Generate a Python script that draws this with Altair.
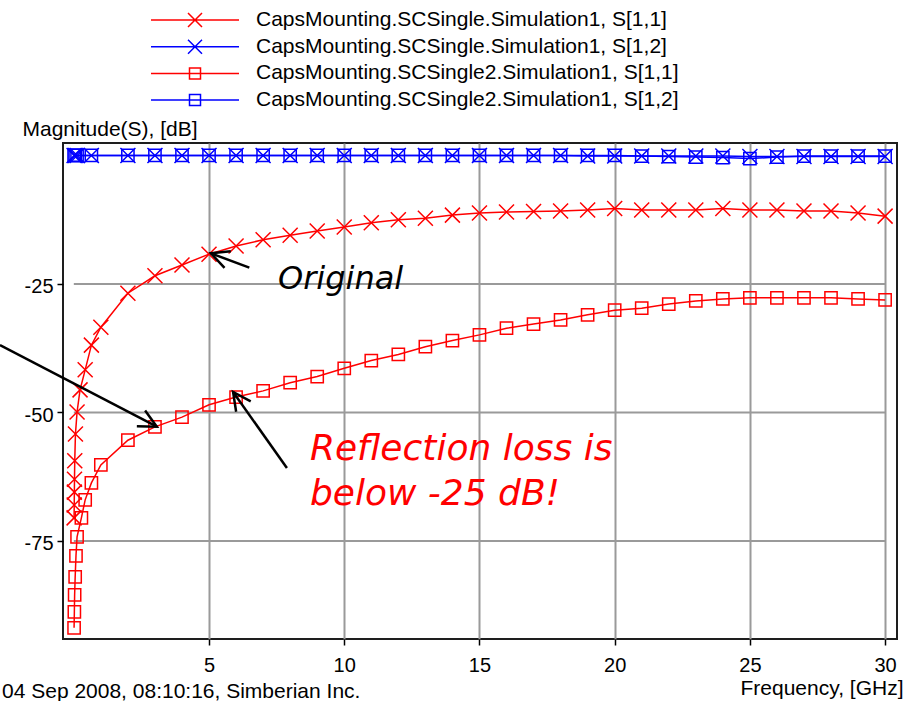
import math

import altair as alt
import pandas as pd

# ---- series names, colours, marker kinds ----
SERIES = [
    "CapsMounting.SCSingle.Simulation1, S[1,1]",
    "CapsMounting.SCSingle.Simulation1, S[1,2]",
    "CapsMounting.SCSingle2.Simulation1, S[1,1]",
    "CapsMounting.SCSingle2.Simulation1, S[1,2]",
]
COLORS = ["#ff0000", "#0000ff", "#ff0000", "#0000ff"]

# ---- frequency sweeps (GHz) and magnitudes (dB) ----
freq_s11_single = [0.01, 0.015, 0.02, 0.025, 0.035, 0.06, 0.12, 0.23, 0.42, 0.65,
                   1, 2, 3, 4, 5, 6, 7, 8, 9, 10,
                   11, 12, 13, 14, 15, 16, 17, 18, 19, 20,
                   21, 22, 23, 24, 25, 26, 27, 28, 29, 30]
s11_single = [-70.5, -68.0, -65.5, -63.0, -59.4, -54.2, -49.9, -45.6, -41.7, -36.9,
              -33.4, -26.8, -23.4, -21.3, -19.2, -17.6, -16.4, -15.5, -14.7, -13.9,
              -13.1, -12.5, -12.2, -11.6, -11.2, -11.0, -10.9, -10.8, -10.6, -10.3,
              -10.6, -10.6, -10.6, -10.3, -10.6, -10.6, -10.8, -10.8, -11.2, -11.8]

freq_s11_single2 = [0.01, 0.02, 0.03, 0.05, 0.08, 0.12, 0.28, 0.42, 0.65, 1,
                    2, 3, 4, 5, 6, 7, 8, 9, 10,
                    11, 12, 13, 14, 15, 16, 17, 18, 19, 20,
                    21, 22, 23, 24, 25, 26, 27, 28, 29, 30]
s11_single2 = [-91.9, -88.8, -85.5, -82.0, -77.9, -74.2, -70.5, -67.0, -63.7, -60.2,
               -55.4, -52.8, -50.9, -48.5, -47.0, -45.8, -44.2, -43.0, -41.4,
               -39.9, -38.7, -37.2, -36.0, -34.9, -33.6, -32.8, -32.0, -31.0, -30.1,
               -29.7, -28.9, -28.3, -27.9, -27.7, -27.7, -27.7, -27.7, -27.9, -28.1]

freq_s12 = [0.01, 0.05, 0.12, 0.65,
            2, 3, 4, 5, 6, 7, 8, 9, 10,
            11, 12, 13, 14, 15, 16, 17, 18, 19, 20,
            21, 22, 23, 24, 25, 26, 27, 28, 29, 30]
s12_single = [0.0, 0.0, 0.0, 0.0,
              0.0, 0.0, 0.0, 0.0, 0.0, 0.0, 0.0, 0.0, 0.0,
              0.0, 0.0, 0.0, 0.0, 0.0, 0.0, 0.0, 0.0, -0.1, -0.1,
              -0.1, -0.1, -0.1, -0.1, -0.2, -0.2, -0.2, -0.2, -0.2, -0.2]
s12_single2 = [0.0, 0.0, 0.0, 0.0,
               0.0, 0.0, 0.0, 0.0, 0.0, 0.0, 0.0, 0.0, 0.0,
               0.0, 0.0, 0.0, 0.0, 0.0, 0.0, 0.0, 0.0, 0.0, 0.0,
               -0.1, -0.2, -0.3, -0.4, -0.6, -0.3, -0.1, -0.1, -0.1, -0.1]

# ---- axis ticks and grid ----
x_ticks = [5, 10, 15, 20, 25, 30]
y_ticks = [-25, -50, -75]
grid_db = [-25, -50, -75]
grid_from, grid_to = 0, 30

# ---- annotations (data units) ----
note_x, note_y, note_text = [7.55], [-25.97], ["Original"]
callout_x = [8.73, 8.73]
callout_y = [-59.24, -68.0]
callout_text = ["Reflection loss is", "below -25 dB!"]
arrow_tail_x = [6.49, -2.73, 7.88]
arrow_tail_y = [-21.83, -36.87, -60.8]
arrow_tip_x = [5.07, 3.07, 5.89]
arrow_tip_y = [-19.03, -52.76, -46.0]

FOOTER = "04 Sep 2008, 08:10:16, Simberian Inc."

X_DOMAIN = [-0.40, 30.44]
Y_DOMAIN = [-94.07, 2.43]
PLOT_W, PLOT_H = 834, 496

UI_FONT = "Liberation Sans"
NOTE_FONT = "DejaVu Sans"

X_PATH = "M-1,-1L1,1M-1,1L1,-1"
LEGEND_X = "M-4.4,0L4.4,0M-0.7,-0.7L0.7,0.7M-0.7,0.7L0.7,-0.7"
LEGEND_SQ = "M-4.4,0L4.4,0M-0.55,-0.55L0.55,-0.55L0.55,0.55L-0.55,0.55Z"
ARROW_HEAD = "M-1,-0.5L0,0L-1,0.5"

# ---- tables ----
rows = []
for name, fs, vs, mk in [
    (SERIES[0], freq_s11_single, s11_single, "x"),
    (SERIES[1], freq_s12, s12_single, "x"),
    (SERIES[2], freq_s11_single2, s11_single2, "square"),
    (SERIES[3], freq_s12, s12_single2, "square"),
]:
    for f, v in zip(fs, vs):
        rows.append({"series": name, "freq": f, "db": v, "marker": mk})
curves = pd.DataFrame(rows)

grid = pd.DataFrame({"db": grid_db, "x0": grid_from, "x1": grid_to})

px_per_x = PLOT_W / (X_DOMAIN[1] - X_DOMAIN[0])
px_per_y = PLOT_H / (Y_DOMAIN[1] - Y_DOMAIN[0])
angles = []
for tx, ty, hx, hy in zip(arrow_tail_x, arrow_tail_y, arrow_tip_x, arrow_tip_y):
    dx = (hx - tx) * px_per_x
    dy = -(hy - ty) * px_per_y
    angles.append(math.degrees(math.atan2(dy, dx)) % 360)
arrows = pd.DataFrame({"x0": arrow_tail_x, "y0": arrow_tail_y,
                       "x1": arrow_tip_x, "y1": arrow_tip_y, "angle": angles})
notes = pd.DataFrame({"x": note_x, "y": note_y, "t": note_text})
callouts = pd.DataFrame({"x": callout_x, "y": callout_y, "t": callout_text})

x_scale = alt.Scale(domain=X_DOMAIN, nice=False, zero=False)
y_scale = alt.Scale(domain=Y_DOMAIN, nice=False, zero=False)
color_scale = alt.Scale(domain=SERIES, range=COLORS)

x_axis = alt.Axis(
    values=x_ticks, grid=True, gridColor="#9a9a9a", gridWidth=2,
    domain=False, ticks=True, tickColor="#000", tickSize=6, tickWidth=1.5,
    labelFont=UI_FONT, labelFontSize=20, labelColor="#000",
    labelBaseline="alphabetic", labelPadding=26, labelFlush=False,
    title="Frequency, [GHz]", titleFont=UI_FONT, titleFontSize=21,
    titleFontWeight="normal", titleColor="#000", titleAlign="right",
    titleBaseline="alphabetic", titleX=840, titleY=55,
)
y_axis = alt.Axis(
    values=y_ticks, grid=False, domain=False, ticks=True, tickColor="#000",
    tickSize=6, tickWidth=1.5, labelFont=UI_FONT, labelFontSize=20,
    labelColor="#000", labelPadding=4, labelOffset=3,
    labelExpr="'' + datum.value",
    title="Magnitude(S), [dB]", titleFont=UI_FONT, titleFontSize=21,
    titleFontWeight="normal", titleColor="#000", titleAngle=0,
    titleAlign="left", titleBaseline="alphabetic", titleX=-41, titleY=-8,
)

legend = alt.Legend(
    orient="none", legendX=121, legendY=-134, title=None, direction="vertical",
    symbolSize=400, symbolStrokeWidth=1.5, labelFont=UI_FONT, labelFontSize=21,
    labelColor="#000", labelLimit=0, labelOffset=50, rowPadding=5.7, padding=0,
)

X = lambda f: alt.X(f, scale=x_scale, axis=x_axis)
Y = lambda f: alt.Y(f, scale=y_scale, axis=y_axis)
C = alt.Color("series:N", scale=color_scale, legend=legend)

gridlines = alt.Chart(grid).mark_rule(color="#9a9a9a", strokeWidth=2).encode(
    x=X("x0:Q"), x2="x1:Q", y=Y("db:Q"),
)

lines = alt.Chart(curves).mark_line(strokeWidth=1.5).encode(
    x=X("freq:Q"), y=Y("db:Q"), color=C, order="freq:Q",
)

x_marks = alt.Chart(curves).transform_filter(alt.datum.marker == "x").mark_point(
    shape=X_PATH, filled=False, size=225, strokeWidth=1.5, opacity=1
).encode(x=X("freq:Q"), y=Y("db:Q"), color=C)

sq_marks = alt.Chart(curves).transform_filter(alt.datum.marker == "square").mark_point(
    shape="square", filled=False, size=150, strokeWidth=1.5, opacity=1
).encode(x=X("freq:Q"), y=Y("db:Q"), color=C)

# legend symbols: a line with the series marker drawn through it
legend_layer = alt.Chart(curves).transform_filter(alt.datum.db > 1000).mark_point(
    filled=False, size=400, strokeWidth=1.5, opacity=1
).encode(
    color=C,
    shape=alt.Shape("series:N",
                    scale=alt.Scale(domain=SERIES,
                                    range=[LEGEND_X, LEGEND_X, LEGEND_SQ, LEGEND_SQ]),
                    legend=legend),
)

arrow_shafts = alt.Chart(arrows).mark_rule(color="#000", strokeWidth=2.5).encode(
    x=X("x0:Q"), y=Y("y0:Q"), x2="x1:Q", y2="y1:Q",
)
arrow_heads = alt.Chart(arrows).mark_point(
    shape=ARROW_HEAD, filled=False, size=1280, strokeWidth=2.5, color="#000", opacity=1
).encode(
    x=X("x1:Q"), y=Y("y1:Q"), angle=alt.Angle("angle:Q", scale=None),
)

note_text_layer = alt.Chart(notes).mark_text(
    font=NOTE_FONT, fontSize=32, fontStyle="italic", color="#000",
    align="left", baseline="alphabetic"
).encode(x=X("x:Q"), y=Y("y:Q"), text="t:N")

callout_layer = alt.Chart(callouts).mark_text(
    font=NOTE_FONT, fontSize=36, fontStyle="italic", color="#ff0000",
    align="left", baseline="alphabetic"
).encode(x=X("x:Q"), y=Y("y:Q"), text="t:N")

chart = alt.layer(
    gridlines, lines, x_marks, sq_marks, legend_layer,
    arrow_shafts, arrow_heads, note_text_layer, callout_layer,
).properties(
    width=PLOT_W,
    height=PLOT_H,
    background="white",
    autosize=alt.AutoSizeParams(type="none"),
    padding={"left": 63, "top": 143, "right": 15, "bottom": 62},
    title=alt.TitleParams(
        FOOTER, orient="bottom", anchor="start", frame="group", dx=-61,
        offset=0, font=UI_FONT, fontSize=21, fontWeight="normal",
        color="#000", baseline="alphabetic",
    ),
).configure_view(
    stroke="#1e1e1e", strokeWidth=2
)

chart.save("out.html", embed_options={"renderer": "svg", "actions": False})
